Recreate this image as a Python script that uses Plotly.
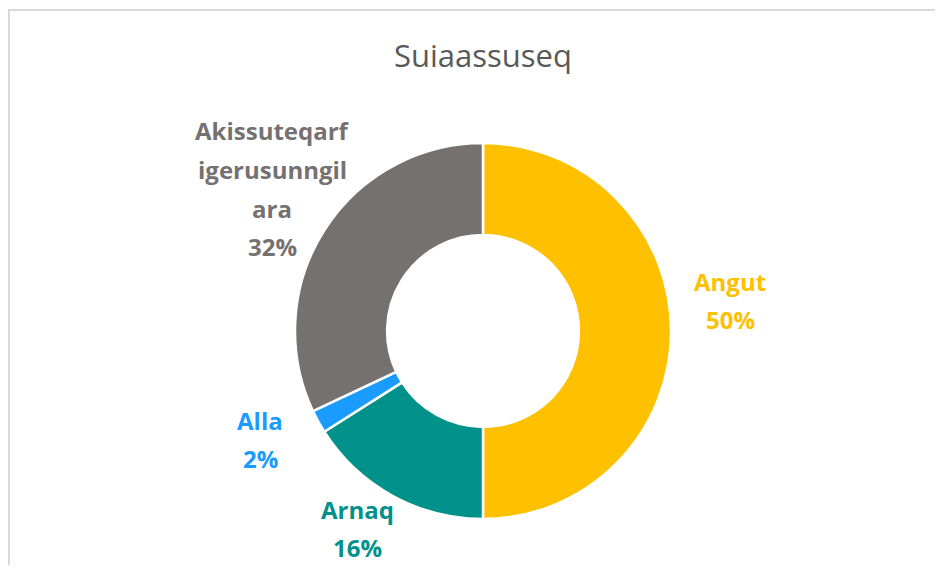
import plotly.graph_objects as go

title = "Suiaassuseq"
labels = ["Angut", "Arnaq", "Alla", "Akissuteqarf igerusunngilara"]
values = [50, 16, 2, 32]
label_lines = [["Angut"], ["Arnaq"], ["Alla"], ["Akissuteqarf", "igerusunngil", "ara"]]
colors = ["#FFC000", "#00918A", "#1A9BFF", "#767171"]

OFF = 8  # page body margin
W, H = 943 - 2 * OFF, 573 - 2 * OFF  # keep page free of scrollbars


def px(x):
    return (x - OFF) / W


def py(y):
    return 1 - (y - OFF) / H


fig = go.Figure()
fig.add_trace(
    go.Pie(
        labels=labels,
        values=values,
        hole=0.51,
        sort=False,
        direction="clockwise",
        rotation=0,
        marker={"colors": colors, "line": {"color": "white", "width": 2.5}},
        textinfo="none",
        hoverinfo="label+percent",
        showlegend=False,
        domain={"x": [px(295), px(671)], "y": [py(519), py(143)]},
    )
)

# label anchors (px, centre of first line) for each slice
label_pos = {"Angut": (730, 283), "Arnaq": (357, 511), "Alla": (260, 422),
             "Akissuteqarf igerusunngilara": (272, 133)}
line_step = 38.5
total = sum(values)
for lab, lines, val, col in zip(labels, label_lines, values, colors):
    x0, y0 = label_pos[lab]
    pct = f"{round(100 * val / total)}%"
    for i, txt in enumerate(lines + [pct]):
        fig.add_annotation(
            x=px(x0),
            y=py(y0 - 2 + i * line_step),
            xref="paper",
            yref="paper",
            text=f"<b>{txt}</b>",
            showarrow=False,
            xanchor="center",
            yanchor="middle",
            font={"family": "Open Sans", "size": 24, "color": col},
        )

fig.add_shape(
    type="rect", xref="paper", yref="paper",
    x0=1 / W, x1=1.05, y0=-0.05, y1=1 - 2 / H,
    line={"color": "#D9D9D9", "width": 2},
    fillcolor="rgba(0,0,0,0)",
)

fig.update_layout(
    width=W,
    height=H,
    margin={"l": 0, "r": 0, "t": 0, "b": 0},
    paper_bgcolor="white",
    plot_bgcolor="white",
    title={
        "text": title,
        "x": px(483),
        "xanchor": "center",
        "y": py(56),
        "yanchor": "middle",
        "font": {"family": "Open Sans", "size": 31, "color": "#595959"},
    },
)

fig.write_html("out.html")
